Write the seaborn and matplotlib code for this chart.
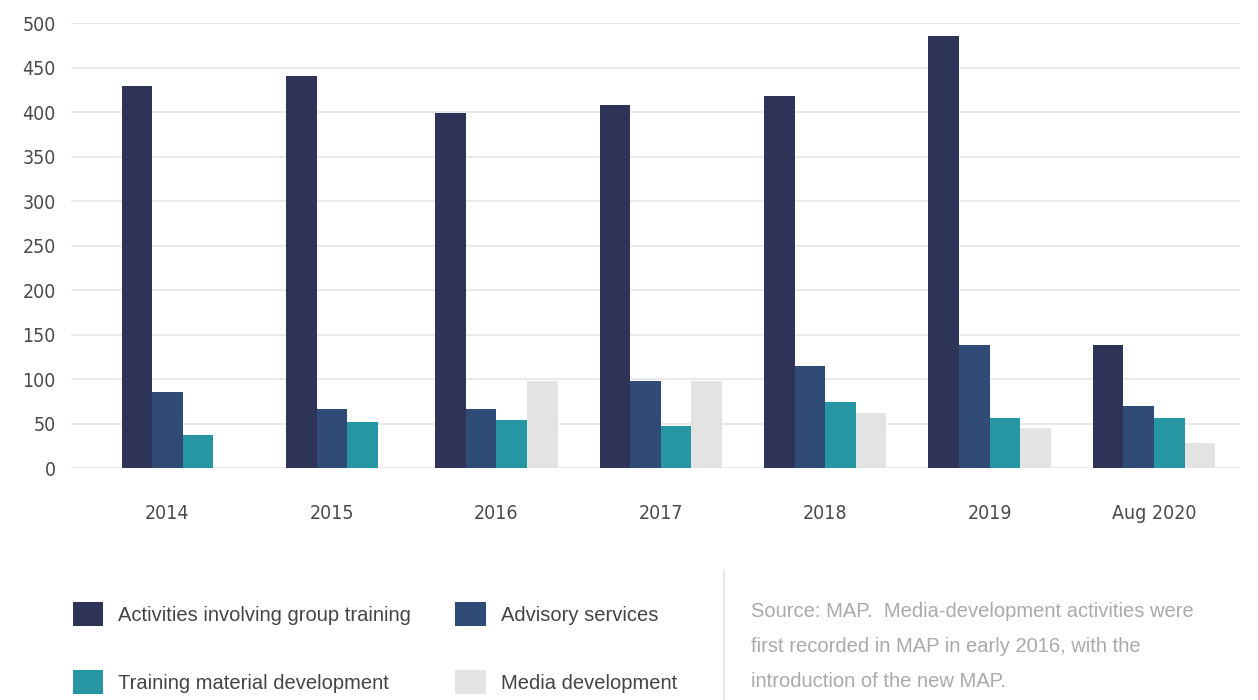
import matplotlib
matplotlib.use("Agg")
import matplotlib.pyplot as plt
from matplotlib.patches import Patch
from matplotlib.lines import Line2D
import numpy as np
import pandas as pd
import seaborn as sns

# ── Data ─────────────────────────────────────────────────────
years = ["2014", "2015", "2016", "2017", "2018", "2019", "Aug 2020"]
group_training = [429, 441, 399, 408, 418, 485, 138]
advisory = [86, 67, 67, 98, 115, 138, 70]
training_material = [37, 52, 54, 48, 74, 57, 56]
media_dev = [np.nan, np.nan, 98, 98, 62, 45, 28]

series_names = [
    "Activities involving group training",
    "Advisory services",
    "Training material development",
    "Media development",
]
series_colors = ["#2e3358", "#2f4b76", "#2596a2", "#e3e3e3"]

df = pd.DataFrame({
    "year": years,
    series_names[0]: group_training,
    series_names[1]: advisory,
    series_names[2]: training_material,
    series_names[3]: media_dev,
})
long_df = df.melt(id_vars="year", var_name="series", value_name="value").dropna()

# ── Figure ───────────────────────────────────────────────────
sns.set_theme(style="white")
plt.rcParams["font.family"] = ["DejaVu Sans"]
plt.rcParams["font.stretch"] = "condensed"

fig = plt.figure(figsize=(12.58, 7), dpi=100)
ax = fig.add_axes([0.0564, 0.331, 0.929, 0.636])

sns.barplot(
    data=long_df, x="year", y="value", hue="series",
    order=years, hue_order=series_names, palette=series_colors,
    width=0.745, saturation=1, linewidth=0, ax=ax, legend=False,
)

# centre groups that have a missing series (media not recorded before 2016)
n_present = df[series_names].notna().sum(axis=1).to_numpy()
for bar in ax.patches:
    w = bar.get_width()
    idx = int(round(bar.get_x() + w / 2))
    missing = len(series_names) - n_present[idx]
    if missing:
        bar.set_x(bar.get_x() + missing * w / 2)

ax.set_ylim(0, 500)
ax.set_yticks(range(0, 501, 50))
ax.set_xlim(-0.587, 6.52)
ax.yaxis.grid(True, color="#e6e6e6", linewidth=1.2)
ax.set_axisbelow(True)
for s in ax.spines.values():
    s.set_visible(False)
ax.set_xlabel("")
ax.set_ylabel("")
ax.tick_params(axis="y", length=0, pad=11, labelsize=14, labelcolor="#4a4a4a")
ax.tick_params(axis="x", length=0, pad=26, labelsize=14, labelcolor="#4a4a4a")

# ── Legend ───────────────────────────────────────────────────
handles = [Patch(facecolor=c, edgecolor="none") for c in series_colors]
order = [0, 2, 1, 3]
fig.legend(
    [handles[i] for i in order], [series_names[i] for i in order],
    ncol=2, loc="upper left", bbox_to_anchor=(0.0436, 0.166),
    frameon=False, handlelength=1.5, handleheight=1.5,
    handletextpad=0.75, columnspacing=2.2, labelspacing=2.15,
    prop={"family": ["Liberation Sans", "DejaVu Sans"], "size": 14.5,
          "stretch": "normal"},
    labelcolor="#444444",
)

# divider and source note
fig.add_artist(Line2D([0.5755, 0.5755], [0.0, 0.186], color="#e3e3e3",
                      linewidth=1.2, transform=fig.transFigure))
fig.text(
    0.597, 0.0764,
    "Source: MAP.  Media-development activities were\n"
    "first recorded in MAP in early 2016, with the\n"
    "introduction of the new MAP.",
    ha="left", va="center", color="#aaaaaa", fontsize=14.5,
    family=["Liberation Sans", "DejaVu Sans"], stretch="normal",
    linespacing=2.05,
)

fig.savefig("out.png", dpi=100)
plt.close(fig)
